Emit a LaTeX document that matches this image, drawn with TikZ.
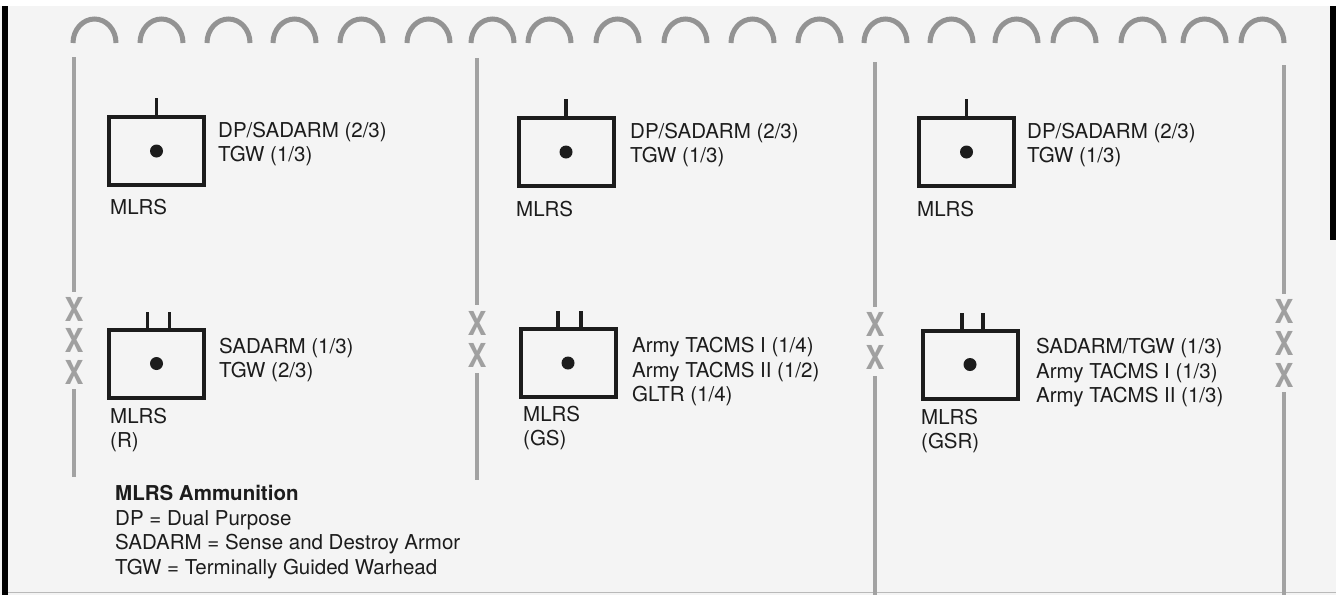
\documentclass[tikz,border=0pt]{standalone}
\usepackage{fontspec}
\setmainfont{TeX Gyre Heros}
\definecolor{paper}{HTML}{F4F4F4}
\definecolor{ink}{HTML}{1C1C1C}
\definecolor{bound}{HTML}{A2A2A2}
\definecolor{arcc}{HTML}{939393}
\definecolor{xcol}{HTML}{A0A0A0}
\newcommand{\echX}{\scalebox{0.86}[1]{X}}
\begin{document}
\begin{tikzpicture}[x=1pt,y=-1pt,
  unitbox/.style={draw=ink, line width=4pt, rectangle, minimum width=95pt, minimum height=68pt, inner sep=0pt},
  dotmark/.style={circle, fill=ink, minimum size=13pt, inner sep=0pt},
  stemline/.style={draw=ink, line width=3.5pt},
  txt/.style={font=\fontsize{20.5}{24.5}\selectfont, text=ink, inner sep=0pt, align=left, anchor=west},
  xmark/.style={font=\fontsize{33}{33}\selectfont\bfseries, text=xcol, inner sep=0pt},
  boundline/.style={draw=bound, line width=4pt},
  caparc/.style={draw=arcc, line width=5pt}]
\useasboundingbox (0,0) rectangle (1336,595);
% paper
\fill[paper] (0,0) rectangle (1336,595);
\fill[white] (0,0) rectangle (1336,6);
\fill[black] (2,6) rectangle (8,595);
\fill[black] (1330,6) rectangle (1336,240);
\draw[gray!55, line width=1.5pt] (8,592.5) -- (1336,592.5);
% top arcs
\foreach \l in {73,140,207,273,340,407,471,528,596,664,731,798,864,930,995,1053,1121,1183,1241}
  \draw[caparc] (\l,43) arc[start angle=180, end angle=0, x radius=21.5pt, y radius=24pt];
% boundary lines and echelon marks
\node[xmark] (x1a) at (74,309) {\echX};
\node[xmark] (x1b) at (74,340.5) {\echX};
\node[xmark] (x1c) at (74,372) {\echX};
\draw[boundline] (74,57) -- (74,292);
\draw[boundline] (74,389) -- (74,477);
\node[xmark] (x2a) at (477,323) {\echX};
\node[xmark] (x2b) at (477,355.5) {\echX};
\draw[boundline] (477,58) -- (477,305);
\draw[boundline] (477,373) -- (477,480);
\node[xmark] (x3a) at (875,324) {\echX};
\node[xmark] (x3b) at (875,357) {\echX};
\draw[boundline] (875,62) -- (875,307);
\draw[boundline] (875,376) -- (875,595);
\node[xmark] (x4a) at (1284,311) {\echX};
\node[xmark] (x4b) at (1284,343) {\echX};
\node[xmark] (x4c) at (1284,375) {\echX};
\draw[boundline] (1284,65) -- (1284,294);
\draw[boundline] (1284,392) -- (1284,595);
% column 1
\node[unitbox] (b11) at (156.5,151) {};
\node[dotmark] (d11) at (b11.center) {};
\draw[stemline] (b11.north) -- ++(0,-17);
\node[txt] (t11) at (218,144) {DP/SADARM (2/3)\\TGW (1/3)};
\node[txt] (m11) at (110,207) {MLRS};
\node[unitbox] (b12) at (156.5,363.5) {};
\node[dotmark] (d12) at (b12.center) {};
\draw[stemline] ([xshift=-9pt]b12.north) -- ++(0,-16);
\draw[stemline] ([xshift=13pt]b12.north) -- ++(0,-16);
\node[txt] (t12) at (219,360) {SADARM (1/3)\\TGW (2/3)};
\node[txt] (m12) at (110,430) {MLRS\\(R)};
% column 2
\node[unitbox] (b21) at (566,152) {};
\node[dotmark] (d21) at (b21.center) {};
\draw[stemline] (b21.north) -- ++(0,-17);
\node[txt] (t21) at (630,145) {DP/SADARM (2/3)\\TGW (1/3)};
\node[txt] (m21) at (516,209) {MLRS};
\node[unitbox] (b22) at (568,363) {};
\node[dotmark] (d22) at (b22.center) {};
\draw[stemline] ([xshift=-10pt]b22.north) -- ++(0,-16);
\draw[stemline] ([xshift=13pt]b22.north) -- ++(0,-16);
\node[txt] (t22) at (632,372) {Army TACMS I (1/4)\\Army TACMS II (1/2)\\GLTR (1/4)};
\node[txt] (m22) at (523,428) {MLRS\\(GS)};
% column 3
\node[unitbox] (b31) at (966.5,152) {};
\node[dotmark] (d31) at (b31.center) {};
\draw[stemline] (b31.north) -- ++(0,-17);
\node[txt] (t31) at (1027,145) {DP/SADARM (2/3)\\TGW (1/3)};
\node[txt] (m31) at (917,209) {MLRS};
\node[unitbox] (b32) at (970,364.5) {};
\node[dotmark] (d32) at (b32.center) {};
\draw[stemline] ([xshift=-8pt]b32.north) -- ++(0,-16);
\draw[stemline] ([xshift=13pt]b32.north) -- ++(0,-16);
\node[txt] (t32) at (1036,373) {SADARM/TGW (1/3)\\Army TACMS I (1/3)\\Army TACMS II (1/3)};
\node[txt] (m32) at (921,431) {MLRS\\(GSR)};
% legend
\node[txt] (leg) at (115,532) {\textbf{MLRS Ammunition}\\DP = Dual Purpose\\SADARM = Sense and Destroy Armor\\TGW = Terminally Guided Warhead};
\end{tikzpicture}
\end{document}
